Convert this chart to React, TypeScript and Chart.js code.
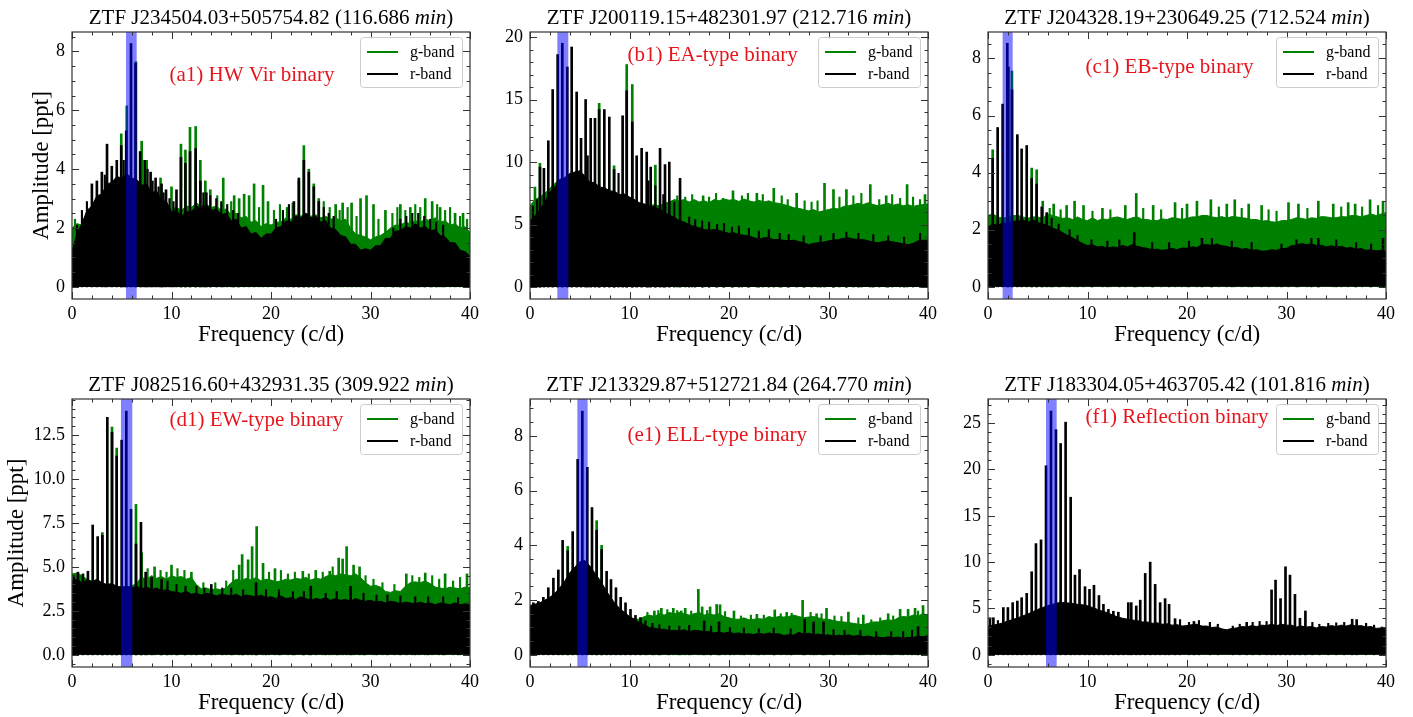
import React, { useEffect, useRef } from 'react';
import { Chart, registerables } from 'chart.js';

Chart.register(...registerables);

const FONT = "'Liberation Serif', 'Times New Roman', serif";
const GREEN = '#008000';
const BLACK = '#000000';
const AXIS = '#333333';

// frequency grid of the dense periodogram envelope (c/d)
const envFreq: number[] = Array.from({ length: 81 }, (_, k) => k * 0.5);

// ---------- (a1) ----------
const a1G = [
  2.0, 2.15, 2.1, 2.3, 2.5, 2.7, 2.8, 3.0, 3.1, 3.2,
  3.3, 3.3, 3.3, 3.2, 3.1, 3.0, 2.9, 2.8, 2.75, 2.7,
  2.65, 2.7, 2.6, 2.75, 2.7, 2.85, 2.75, 2.8, 2.7, 2.75,
  2.6, 2.65, 2.45, 2.5, 2.35, 2.4, 2.2, 2.25, 2.05, 2.15,
  2.1, 2.2, 2.2, 2.35, 2.3, 2.45, 2.4, 2.5, 2.4, 2.45,
  2.35, 2.4, 2.3, 2.35, 2.25, 2.3, 2.0, 1.8, 1.75, 1.7,
  1.6, 1.7, 1.75, 1.85, 2.0, 2.1, 2.1, 2.2, 2.15, 2.25,
  2.2, 2.3, 2.25, 2.35, 2.2, 2.25, 2.1, 2.15, 2.0, 2.05,
  1.85,
];
const a1R = [
  1.2, 1.8, 2.15, 2.6, 2.75, 3.1, 3.15, 3.5, 3.55, 3.75,
  3.7, 3.85, 3.7, 3.65, 3.45, 3.5, 3.2, 3.25, 2.95, 2.9,
  2.55, 2.6, 2.4, 2.55, 2.55, 2.75, 2.65, 2.8, 2.6, 2.65,
  2.45, 2.5, 2.25, 2.3, 2.0, 2.05, 1.8, 1.85, 1.65, 1.8,
  1.8, 2.0, 2.05, 2.25, 2.2, 2.4, 2.35, 2.5, 2.35, 2.4,
  2.2, 2.25, 2.0, 1.95, 1.75, 1.7, 1.45, 1.45, 1.25, 1.3,
  1.25, 1.4, 1.4, 1.65, 1.65, 1.9, 1.9, 2.05, 2.0, 2.15,
  2.0, 2.05, 1.9, 1.95, 1.75, 1.7, 1.5, 1.5, 1.25, 1.2,
  1.05,
];
const a1GSpk = [[4.95, 5.2], [5.5, 6.15], [6.43, 7.65], [7.0, 4.95], [7.5, 4.3], [8.9, 3.7], [10.0, 3.4], [10.95, 4.85], [11.4, 4.65], [11.86, 5.42], [12.43, 5.45], [12.9, 4.3], [13.4, 3.6], [13.9, 3.3], [15.2, 3.7], [16.3, 3.1], [16.8, 3.0], [17.3, 3.15], [17.8, 3.1], [18.3, 3.5], [19.2, 3.45], [19.7, 2.9], [22.2, 2.85], [22.8, 3.6], [23.3, 4.8], [23.8, 4.0], [24.3, 3.5], [24.8, 3.0], [26.5, 2.8], [27.2, 2.85], [28.1, 2.85], [29.0, 3.0], [29.6, 3.1], [30.3, 2.8], [31.5, 2.6], [33.0, 2.8], [34.0, 2.7], [35.5, 3.0], [36.2, 2.9], [37.0, 2.7], [38.5, 2.5], [39.3, 2.5]];
const a1RSpk = [[2.0, 3.5], [2.5, 3.6], [3.0, 3.9], [3.52, 4.85], [4.0, 4.1], [4.5, 4.3], [4.95, 4.8], [5.45, 5.3], [5.93, 8.27], [6.38, 7.6], [6.85, 4.6], [7.3, 4.3], [7.9, 3.9], [8.4, 3.7], [9.0, 3.5], [9.45, 3.3], [10.5, 3.3], [10.95, 4.4], [11.4, 4.2], [11.86, 4.6], [12.43, 4.7], [12.9, 3.6], [13.5, 3.2], [22.3, 2.9], [22.8, 3.7], [23.3, 4.3], [23.8, 3.9], [24.3, 3.4], [24.8, 2.9]];
const a1GHair = [[0.3, 2.3], [14.6, 3.1], [16.0, 2.9], [18.8, 2.7], [20.3, 2.6], [20.9, 2.8], [21.6, 2.7], [25.3, 2.9], [25.9, 2.7], [26.9, 2.6], [27.7, 2.7], [28.6, 2.4], [30.8, 2.3], [32.2, 2.5], [32.7, 2.7], [33.5, 2.6], [34.5, 2.8], [35.0, 2.7], [36.7, 2.8], [37.5, 2.6], [38.0, 2.7], [39.0, 2.4], [39.7, 2.3]];
const a1RHair = [[0.5, 2.1], [1.0, 2.6], [1.5, 2.9], [3.3, 3.8], [5.2, 4.3], [7.6, 4.0], [8.1, 3.6], [8.7, 3.4], [9.2, 3.2], [9.8, 3.0], [10.2, 2.9], [13.2, 3.2], [13.9, 3.1], [14.5, 3.0], [15.0, 2.9], [15.6, 2.8], [16.2, 2.6], [16.7, 2.5], [20.5, 2.3], [21.2, 2.6], [21.8, 2.8], [25.3, 2.7], [25.8, 2.5], [26.3, 2.4], [32.3, 2.0], [33.0, 2.3], [33.6, 2.4], [34.2, 2.5], [34.8, 2.5], [35.4, 2.4], [36.0, 2.3], [36.6, 2.2], [37.3, 2.1]];

// ---------- (b1) ----------
const b1G = [
  6.5, 7.0, 7.2, 7.5, 7.9, 8.3, 8.6, 8.8, 9.0, 9.1,
  9.1, 8.8, 8.3, 8.2, 7.9, 7.8, 7.6, 7.5, 7.3, 7.3,
  7.1, 6.95, 6.7, 6.6, 6.5, 6.6, 6.5, 6.7, 6.8, 7.0,
  6.9, 7.0, 6.8, 7.0, 6.8, 6.9, 6.75, 7.0, 6.9, 7.05,
  6.95, 7.0, 6.85, 7.05, 6.9, 6.8, 6.95, 6.8, 6.9, 6.75,
  6.7, 6.6, 6.5, 6.35, 6.3, 6.2, 6.1, 6.2, 6.0, 6.1,
  6.2, 6.3, 6.25, 6.45, 6.5, 6.6, 6.7, 6.6, 6.75, 6.6,
  6.5, 6.6, 6.7, 6.55, 6.65, 6.5, 6.6, 6.45, 6.55, 6.6,
  6.65,
];
const b1R = [
  5.3, 5.7, 6.2, 6.8, 7.6, 8.0, 8.6, 8.7, 9.1, 9.2,
  9.3, 8.9, 8.4, 8.35, 8.0, 7.95, 7.7, 7.65, 7.4, 7.45,
  7.2, 7.0, 6.75, 6.65, 6.4, 6.45, 6.2, 6.0, 5.75, 5.6,
  5.3, 5.2, 5.0, 4.85, 4.75, 4.6, 4.55, 4.6, 4.55, 4.4,
  4.3, 4.35, 4.2, 4.15, 4.1, 3.95, 3.85, 3.95, 3.95, 3.8,
  3.8, 3.75, 3.7, 3.75, 3.65, 3.55, 3.4, 3.5, 3.55, 3.6,
  3.7, 3.75, 3.8, 3.9, 3.95, 3.85, 3.8, 3.8, 3.7, 3.6,
  3.55, 3.65, 3.7, 3.6, 3.55, 3.45, 3.4, 3.5, 3.7, 3.75,
  3.75,
];
const b1GSpk = [[0.5, 8.0], [1.0, 9.9], [6.95, 14.7], [8.45, 9.7], [9.72, 17.8], [10.28, 16.2], [12.6, 9.75], [17.4, 7.3], [20.4, 7.7], [22.8, 7.5], [24.5, 7.9], [26.8, 7.5], [29.6, 8.3], [30.5, 7.8], [31.8, 7.8], [34.2, 8.2], [35.8, 7.3], [37.9, 8.2], [39.7, 7.4]];
const b1RSpk = [[1.0, 9.6], [1.4, 9.5], [1.84, 11.7], [2.28, 15.8], [2.78, 18.6], [3.25, 19.5], [3.75, 17.6], [4.19, 19.2], [4.69, 15.6], [5.13, 11.9], [5.59, 15.0], [6.1, 13.5], [6.53, 13.5], [6.95, 14.2], [7.47, 14.2], [7.97, 13.6], [8.45, 9.4], [9.31, 13.7], [9.72, 15.7], [10.28, 13.2], [10.72, 10.5], [11.22, 11.1], [11.73, 10.8], [12.13, 9.6], [13.07, 11.1], [13.57, 9.8], [14.0, 10.0], [15.08, 8.7]];
const b1GHair = [[14.8, 7.3], [15.6, 7.2], [16.3, 7.4], [18.0, 7.2], [18.7, 7.5], [19.4, 7.1], [21.3, 7.3], [21.9, 7.5], [23.4, 7.4], [25.3, 7.3], [25.9, 7.0], [27.6, 6.9], [28.3, 6.8], [28.9, 6.9], [31.1, 7.2], [32.5, 7.3], [33.3, 7.5], [35.1, 7.0], [36.4, 7.4], [37.2, 7.1], [38.5, 7.2], [39.2, 7.0]];
const b1RHair = [[0.3, 6.5], [0.7, 7.0], [5.8, 10.5], [8.9, 9.1], [11.9, 8.5], [12.6, 8.1], [13.4, 7.4], [14.5, 6.8], [16.0, 5.6], [16.6, 5.4], [17.3, 5.3], [18.0, 5.2], [18.8, 5.0], [19.5, 5.1], [20.3, 4.8], [21.0, 4.9], [22.0, 4.7], [23.0, 4.5], [24.0, 4.6], [25.1, 4.3], [26.0, 4.2], [27.5, 4.1], [29.2, 4.1], [30.5, 4.3], [31.8, 4.4], [33.0, 4.3], [34.5, 4.2], [36.0, 4.1], [37.6, 4.0], [39.2, 4.3]];

// ---------- (c1) ----------
const c1G = [
  2.5, 2.55, 2.45, 2.4, 2.45, 2.5, 2.5, 2.45, 2.4, 2.45,
  2.45, 2.4, 2.55, 2.5, 2.45, 2.4, 2.42, 2.36, 2.45, 2.36,
  2.32, 2.42, 2.32, 2.38, 2.36, 2.42, 2.45, 2.4, 2.36, 2.42,
  2.45, 2.36, 2.36, 2.32, 2.32, 2.38, 2.36, 2.42, 2.4, 2.36,
  2.4, 2.45, 2.45, 2.5, 2.5, 2.45, 2.42, 2.46, 2.4, 2.46,
  2.45, 2.42, 2.4, 2.36, 2.36, 2.3, 2.32, 2.28, 2.26, 2.32,
  2.32, 2.36, 2.42, 2.4, 2.36, 2.42, 2.4, 2.46, 2.45, 2.42,
  2.42, 2.46, 2.45, 2.5, 2.5, 2.45, 2.5, 2.55, 2.5, 2.55,
  2.6,
];
const c1R = [
  2.1, 2.2, 2.15, 2.25, 2.2, 2.3, 2.3, 2.35, 2.25, 2.35,
  2.25, 2.2, 2.15, 2.05, 2.0, 1.9, 1.8, 1.72, 1.62, 1.52,
  1.45, 1.47, 1.4, 1.42, 1.35, 1.4, 1.38, 1.45, 1.4, 1.48,
  1.42, 1.38, 1.35, 1.3, 1.32, 1.28, 1.3, 1.35, 1.3, 1.36,
  1.35, 1.4, 1.38, 1.47, 1.48, 1.45, 1.5, 1.44, 1.42, 1.36,
  1.38, 1.32, 1.34, 1.28, 1.3, 1.25, 1.26, 1.3, 1.28, 1.34,
  1.35, 1.44, 1.46, 1.52, 1.48, 1.5, 1.45, 1.46, 1.4, 1.44,
  1.4, 1.42, 1.36, 1.38, 1.32, 1.34, 1.28, 1.3, 1.26, 1.28,
  1.25,
];
const c1GSpk = [[0.47, 4.8], [2.41, 7.56], [4.39, 4.16], [4.89, 4.1], [5.5, 3.0], [6.6, 2.9], [7.9, 2.85], [8.7, 3.0], [9.6, 2.85], [11.5, 2.75], [13.8, 2.85], [14.9, 3.27], [16.6, 2.85], [18.8, 2.95], [20.0, 2.9], [21.0, 3.0], [22.4, 3.05], [24.0, 2.9], [24.8, 3.05], [26.2, 2.9], [27.5, 2.85], [30.2, 2.95], [31.2, 2.9], [33.2, 3.0], [34.7, 2.9], [36.2, 2.95], [36.9, 2.9], [38.4, 3.05], [39.7, 3.0]];
const c1RSpk = [[0.47, 4.5], [0.97, 5.58], [1.47, 6.4], [1.94, 8.53], [2.05, 7.7], [2.41, 6.9], [2.95, 5.33], [3.38, 4.83], [3.89, 4.95], [4.39, 3.8], [4.89, 3.6], [5.4, 2.8], [5.9, 2.6], [14.7, 1.9], [21.5, 1.7], [33.2, 1.7], [39.7, 1.7]];
const c1GHair = [[6.2, 2.75], [7.3, 2.7], [10.5, 2.65], [12.3, 2.7], [15.6, 2.75], [17.4, 2.7], [19.5, 2.75], [23.2, 2.8], [25.5, 2.75], [28.2, 2.7], [29.0, 2.65], [32.1, 2.75], [35.5, 2.8], [37.6, 2.8], [39.2, 2.85]];
const c1RHair = [[6.4, 2.4], [7.1, 2.2], [8.2, 2.0], [9.0, 1.8], [10.4, 1.65], [12.0, 1.6], [13.2, 1.65], [16.5, 1.55], [18.2, 1.55], [20.2, 1.6], [22.5, 1.7], [24.5, 1.6], [26.5, 1.55], [29.5, 1.5], [31.0, 1.65], [32.5, 1.7], [35.0, 1.65], [37.0, 1.55], [38.5, 1.5]];

// ---------- (d1) ----------
const d1G = [
  4.6, 4.65, 4.5, 4.3, 4.2, 4.1, 4.0, 4.0, 3.9, 3.85,
  3.8, 3.85, 3.9, 4.1, 4.4, 4.3, 4.5, 4.35, 4.45, 4.3,
  4.5, 4.4, 4.45, 4.3, 4.4, 4.0, 3.75, 3.8, 3.7, 3.75,
  3.7, 3.8, 4.1, 4.3, 4.2, 4.35, 4.25, 4.4, 4.2, 4.3,
  4.25, 4.15, 4.2, 4.3, 4.25, 4.35, 4.3, 4.4, 4.25, 4.35,
  4.3, 4.45, 4.55, 4.5, 4.6, 4.55, 4.5, 4.6, 4.4, 4.1,
  3.9, 3.95, 3.85, 3.6, 3.55, 3.65, 3.6, 3.9, 4.1, 4.15,
  4.1, 4.2, 4.05, 3.85, 3.8, 3.75, 3.85, 3.8, 3.75, 3.85,
  3.8,
];
const d1R = [
  4.2, 4.3, 4.1, 4.25, 4.15, 4.3, 4.1, 4.0, 4.05, 3.9,
  3.85, 3.9, 3.8, 3.9, 3.75, 3.85, 3.7, 3.8, 3.65, 3.7,
  3.6, 3.55, 3.5, 3.6, 3.45, 3.5, 3.4, 3.5, 3.45, 3.35,
  3.45, 3.4, 3.35, 3.45, 3.3, 3.4, 3.35, 3.3, 3.4, 3.25,
  3.3, 3.2, 3.35, 3.2, 3.25, 3.15, 3.3, 3.2, 3.1, 3.2,
  3.15, 3.25, 3.1, 3.2, 3.1, 3.15, 3.05, 3.2, 3.1, 3.05,
  3.1, 3.0, 3.05, 2.95, 3.05, 3.0, 2.9, 3.0, 2.95, 2.9,
  3.0, 2.9, 2.95, 2.85, 2.95, 2.9, 2.85, 2.95, 2.85, 2.9,
  2.85,
];
const d1GSpk = [[3.05, 6.95], [4.02, 12.95], [4.49, 11.75], [6.43, 8.55], [7.0, 5.8], [8.3, 5.0], [10.0, 5.1], [12.0, 4.7], [16.8, 5.1], [17.1, 5.7], [17.7, 5.4], [18.1, 6.15], [18.56, 7.29], [19.2, 5.2], [20.4, 4.9], [23.2, 4.75], [24.5, 4.8], [25.9, 4.75], [26.8, 5.5], [27.2, 5.45], [27.6, 6.15], [28.3, 5.1], [28.9, 5.0], [33.6, 4.6], [35.5, 4.65], [37.5, 4.6], [39.7, 4.6]];
const d1RSpk = [[0.6, 4.7], [1.1, 4.6], [1.6, 4.75], [2.08, 7.38], [2.58, 6.72], [3.05, 6.8], [3.55, 13.5], [4.02, 12.65], [4.49, 11.3], [4.99, 12.2], [5.46, 13.85], [5.93, 8.27], [6.43, 6.3], [6.93, 7.53], [7.4, 4.7], [8.0, 4.4], [9.0, 4.3], [14.0, 4.0], [18.5, 4.1], [24.0, 3.9], [28.0, 3.9]];
const d1GHair = [[7.6, 4.9], [8.9, 4.8], [9.5, 4.7], [10.6, 4.9], [11.3, 4.8], [13.2, 4.1], [14.4, 4.1], [15.5, 4.2], [16.2, 4.8], [19.8, 4.7], [21.0, 4.8], [21.7, 4.6], [22.4, 4.7], [23.8, 4.6], [25.2, 4.7], [26.2, 5.0], [29.5, 4.5], [30.3, 4.3], [31.2, 4.1], [32.4, 4.0], [34.2, 4.5], [34.9, 4.4], [36.2, 4.5], [36.9, 4.3], [38.3, 4.2], [39.0, 4.4]];
const d1RHair = [[0.2, 4.5], [9.6, 4.2], [10.5, 4.0], [11.4, 3.9], [12.5, 3.9], [13.3, 3.8], [15.1, 3.8], [16.0, 3.8], [17.2, 3.7], [19.5, 3.7], [20.8, 3.7], [22.2, 3.6], [23.3, 3.6], [25.5, 3.5], [26.6, 3.6], [29.3, 3.5], [30.6, 3.4], [31.7, 3.4], [33.0, 3.35], [34.5, 3.3], [35.8, 3.3], [37.3, 3.3], [38.8, 3.25]];

// ---------- (e1) ----------
const e1G = [
  1.7, 1.75, 1.8, 1.85, 1.95, 2.05, 2.2, 2.4, 2.6, 2.8,
  2.9, 3.0, 2.9, 2.7, 2.5, 2.2, 1.95, 1.75, 1.6, 1.45,
  1.35, 1.3, 1.3, 1.4, 1.45, 1.4, 1.5, 1.45, 1.55, 1.5,
  1.55, 1.5, 1.45, 1.5, 1.55, 1.45, 1.5, 1.45, 1.5, 1.4,
  1.35, 1.3, 1.3, 1.35, 1.28, 1.3, 1.32, 1.3, 1.4, 1.35,
  1.4, 1.38, 1.4, 1.45, 1.4, 1.35, 1.38, 1.4, 1.35, 1.3,
  1.3, 1.25, 1.22, 1.2, 1.18, 1.15, 1.12, 1.1, 1.15, 1.2,
  1.2, 1.25, 1.28, 1.25, 1.35, 1.4, 1.38, 1.45, 1.42, 1.5,
  1.45,
];
const e1R = [
  1.8, 1.85, 1.9, 2.0, 2.1, 2.25, 2.45, 2.7, 3.0, 3.2,
  3.4, 3.45, 3.25, 3.0, 2.75, 2.45, 2.15, 1.9, 1.7, 1.55,
  1.4, 1.3, 1.17, 1.1, 0.99, 0.98, 0.92, 0.94, 0.88, 0.9,
  0.87, 0.92, 0.84, 0.9, 0.88, 0.84, 0.86, 0.8, 0.83, 0.79,
  0.83, 0.78, 0.8, 0.75, 0.77, 0.74, 0.79, 0.75, 0.8, 0.76,
  0.77, 0.71, 0.73, 0.72, 0.82, 0.76, 0.79, 0.74, 0.76, 0.71,
  0.73, 0.68, 0.72, 0.69, 0.73, 0.68, 0.71, 0.66, 0.69, 0.64,
  0.65, 0.62, 0.66, 0.62, 0.65, 0.6, 0.64, 0.63, 0.68, 0.66,
  0.7,
];
const e1GSpk = [[3.79, 3.96], [6.7, 4.9], [7.2, 4.0], [12.5, 1.6], [13.2, 1.7], [14.4, 1.7], [15.2, 1.6], [15.6, 1.7], [16.92, 2.39], [17.3, 1.75], [18.1, 1.75], [18.76, 1.84], [19.1, 1.83], [20.5, 1.6], [22.8, 1.48], [24.6, 1.64], [25.8, 1.55], [27.4, 1.99], [28.8, 1.5], [29.8, 1.7], [32.0, 1.56], [33.5, 1.45], [36.0, 1.5], [37.2, 1.66], [38.0, 1.66], [38.7, 1.7], [39.5, 1.8]];
const e1RSpk = [[0.34, 1.9], [0.84, 1.95], [1.34, 2.1], [1.84, 2.45], [2.35, 2.8], [2.85, 3.1], [3.28, 4.18], [3.79, 3.8], [4.29, 4.5], [4.79, 7.14], [5.26, 8.9], [5.76, 6.85], [6.23, 5.38], [6.7, 4.55], [7.2, 3.85], [7.7, 3.05], [8.14, 2.75], [8.64, 2.45], [9.11, 2.1], [9.6, 1.9], [10.1, 1.66], [10.6, 1.44], [11.1, 1.36], [17.5, 1.24], [19.0, 1.2], [27.6, 1.3], [28.5, 1.2], [29.5, 1.2], [39.0, 1.03]];
const e1GHair = [[11.8, 1.55], [12.9, 1.62], [13.8, 1.65], [14.8, 1.62], [16.2, 1.6], [17.8, 1.62], [19.6, 1.58], [21.2, 1.42], [22.2, 1.45], [23.5, 1.45], [25.2, 1.5], [26.3, 1.52], [28.2, 1.55], [29.3, 1.5], [30.6, 1.42], [31.3, 1.4], [33.0, 1.35], [34.3, 1.28], [35.2, 1.35], [36.5, 1.42], [39.0, 1.6]];
const e1RHair = [[11.6, 1.25], [12.3, 1.15], [13.0, 1.1], [14.0, 1.05], [15.0, 1.05], [16.0, 1.08], [18.2, 1.05], [20.1, 1.0], [21.5, 0.98], [23.0, 0.95], [24.5, 0.98], [26.2, 0.95], [30.5, 0.92], [31.6, 0.9], [33.2, 0.9], [34.8, 0.85], [36.3, 0.85], [37.5, 0.85], [38.4, 0.9]];

// ---------- (f1) ----------
const f1G = [
  2.4, 2.5, 2.6, 2.7, 2.85, 3.0, 3.1, 3.25, 3.4, 3.6,
  3.8, 3.95, 4.1, 4.2, 4.3, 4.35, 4.3, 4.25, 4.2, 4.15,
  4.05, 3.9, 3.75, 3.6, 3.5, 3.3, 3.15, 3.05, 2.95, 2.9,
  2.8, 2.75, 2.7, 2.65, 2.6, 2.55, 2.55, 2.5, 2.45, 2.4,
  2.4, 2.45, 2.5, 2.4, 2.35, 2.3, 2.25, 2.15, 2.1, 2.15,
  2.25, 2.3, 2.35, 2.4, 2.4, 2.45, 2.5, 2.5, 2.45, 2.5,
  2.45, 2.4, 2.35, 2.35, 2.35, 2.3, 2.25, 2.3, 2.35, 2.4,
  2.35, 2.4, 2.45, 2.45, 2.4, 2.4, 2.35, 2.3, 2.25, 2.2,
  2.15,
];
const f1R = [
  3.1, 3.2, 3.3, 3.45, 3.65, 3.8, 4.0, 4.2, 4.4, 4.65,
  4.9, 5.1, 5.3, 5.45, 5.6, 5.65, 5.6, 5.55, 5.45, 5.4,
  5.3, 5.1, 4.9, 4.7, 4.55, 4.3, 4.1, 3.95, 3.85, 3.75,
  3.7, 3.55, 3.55, 3.4, 3.45, 3.3, 3.35, 3.2, 3.25, 3.1,
  3.15, 3.25, 3.3, 3.1, 3.1, 2.95, 3.0, 2.8, 2.7, 2.85,
  2.9, 3.05, 3.0, 3.15, 3.05, 3.2, 3.15, 3.3, 3.15, 3.3,
  3.2, 3.2, 3.0, 3.1, 3.0, 3.05, 2.9, 3.05, 3.0, 3.15,
  3.05, 3.2, 3.1, 3.25, 3.1, 3.15, 3.0, 3.05, 2.85, 2.9,
  2.8,
];
const f1GSpk: number[][] = [];
const f1RSpk = [[0.2, 4.0], [0.54, 4.0], [1.54, 5.1], [2.0, 5.1], [2.48, 5.63], [2.95, 5.8], [3.38, 6.16], [3.89, 6.63], [4.39, 8.96], [4.82, 12.0], [5.33, 12.4], [5.83, 20.4], [6.33, 26.3], [6.83, 24.3], [7.3, 22.8], [7.8, 25.1], [8.31, 17.0], [8.74, 8.6], [9.2, 9.2], [9.75, 7.35], [10.2, 7.06], [10.65, 7.5], [11.15, 6.4], [11.6, 5.45], [12.1, 4.9], [12.6, 4.7], [13.1, 4.6], [13.6, 3.84], [14.1, 5.63], [14.4, 5.63], [14.9, 5.27], [15.3, 5.9], [15.8, 8.78], [16.3, 10.0], [16.8, 7.6], [17.3, 5.63], [17.8, 6.06], [18.2, 5.45], [18.8, 3.9], [20.7, 3.6], [26.0, 3.5], [28.5, 7.0], [28.9, 8.06], [29.4, 6.06], [29.9, 9.5], [30.35, 8.6], [30.85, 6.52], [31.35, 3.94], [31.9, 4.73], [36.6, 3.84], [37.05, 3.8]];
const f1GHair: number[][] = [];
const f1RHair = [[1.0, 3.7], [19.3, 3.8], [20.2, 3.5], [21.2, 3.7], [22.3, 3.5], [23.1, 3.3], [24.6, 3.1], [25.3, 3.3], [26.6, 3.5], [27.3, 3.6], [28.0, 3.6], [32.6, 3.5], [33.3, 3.3], [34.2, 3.4], [35.0, 3.45], [35.8, 3.5], [38.0, 3.4], [38.8, 3.2], [39.6, 3.0]];

// ---------- panel texts / axes ----------
const titles = ['ZTF J234504.03+505754.82', 'ZTF J200119.15+482301.97', 'ZTF J204328.19+230649.25', 'ZTF J082516.60+432931.35', 'ZTF J213329.87+512721.84', 'ZTF J183304.05+463705.42'];
const periods = ['116.686', '212.716', '712.524', '309.922', '264.770', '101.816'];
const tags = ['(a1) HW Vir binary', '(b1) EA-type binary', '(c1) EB-type binary', '(d1) EW-type binary', '(e1) ELL-type binary', '(f1) Reflection binary'];
const legendLabels = ['g-band', 'r-band'];
const bandLo = [5.43, 2.75, 1.47, 4.92, 4.76, 5.83];
const bandHi = [6.5, 3.85, 2.48, 6.06, 5.79, 6.9];
const yMin = [-0.41, -0.95, -0.425, -0.69, -0.445, -1.315];
const yMax = [8.66, 20.4, 8.925, 14.54, 9.345, 27.6];
const yStep = [2, 5, 2, 2.5, 2, 5];
const yMinorStep = [0.5, 1, 0.5, 0.5, 0.5, 1];
const yDecimals = [0, 0, 0, 1, 0, 0];
const xMin = 0, xMax = 40, xStep = 10, xMinorStep = 2;

const gEnv = [a1G, b1G, c1G, d1G, e1G, f1G];
const rEnv = [a1R, b1R, c1R, d1R, e1R, f1R];
const gSpk = [a1GSpk, b1GSpk, c1GSpk, d1GSpk, e1GSpk, f1GSpk];
const rSpk = [a1RSpk, b1RSpk, c1RSpk, d1RSpk, e1RSpk, f1RSpk];
const gHair = [a1GHair, b1GHair, c1GHair, d1GHair, e1GHair, f1GHair];
const rHair = [a1RHair, b1RHair, c1RHair, d1RHair, e1RHair, f1RHair];

// ---------- layout ----------
const COL_L = [72, 530, 988];
const ROW_T = [32, 399];
const ROW_H = [267, 268];
const PW = 398, YW = 72, PADR = 16, PADT = 32, XH = 48;
const TAG_DY = [43, 23, 35, 21, 36, 18];
const YLAB_DX = [-30, 0, 0, -55, 0, 0];

function makeDecor(i: number) {
  return {
    id: 'decor' + i,
    afterDatasetsDraw(chart: any) {
      const { ctx, chartArea: ca, scales } = chart;
      const xs = scales.x;
      ctx.save();
      ctx.beginPath();
      ctx.rect(ca.left, ca.top, ca.right - ca.left, ca.bottom - ca.top);
      ctx.clip();
      const x0 = xs.getPixelForValue(bandLo[i]);
      const x1 = xs.getPixelForValue(bandHi[i]);
      ctx.fillStyle = 'rgba(0,0,255,0.5)';
      ctx.fillRect(x0, ca.top, x1 - x0, ca.bottom - ca.top);
      ctx.restore();
    },
    afterDraw(chart: any) {
      const { ctx, chartArea: ca, scales } = chart;
      const xs = scales.x, ys = scales.y;
      ctx.save();
      ctx.strokeStyle = AXIS;
      ctx.lineWidth = 1;
      ctx.beginPath();
      const xr = Math.round(xStep / xMinorStep);
      for (let k = Math.ceil(xMin / xMinorStep); k * xMinorStep <= xMax + 1e-9; k++) {
        const px = Math.round(xs.getPixelForValue(k * xMinorStep)) + 0.5;
        const len = k % xr === 0 ? 7 : 3.5;
        ctx.moveTo(px, ca.bottom); ctx.lineTo(px, ca.bottom - len);
        ctx.moveTo(px, ca.top); ctx.lineTo(px, ca.top + len);
      }
      const ms = yMinorStep[i];
      const yr = Math.round(yStep[i] / ms);
      for (let k = Math.ceil(yMin[i] / ms - 1e-9); k * ms <= yMax[i] + 1e-9; k++) {
        const py = Math.round(ys.getPixelForValue(k * ms)) + 0.5;
        const len = ((k % yr) + yr) % yr === 0 ? 7 : 3.5;
        ctx.moveTo(ca.left, py); ctx.lineTo(ca.left + len, py);
        ctx.moveTo(ca.right, py); ctx.lineTo(ca.right - len, py);
      }
      ctx.stroke();
      ctx.lineWidth = 1.2;
      ctx.strokeRect(ca.left, ca.top, ca.right - ca.left, ca.bottom - ca.top);

      // legend
      const lw = 102, lh = 50;
      const lx = ca.right - 8 - lw, ly = ca.top + 5;
      ctx.beginPath();
      ctx.roundRect(lx + 0.5, ly + 0.5, lw, lh, 3);
      ctx.fillStyle = 'rgba(255,255,255,0.8)';
      ctx.fill();
      ctx.strokeStyle = '#cccccc';
      ctx.lineWidth = 1;
      ctx.stroke();
      const rows = [ly + 15, ly + 37];
      const cols = [GREEN, BLACK];
      ctx.font = `16px ${FONT}`;
      ctx.textBaseline = 'middle';
      ctx.textAlign = 'left';
      for (let r = 0; r < 2; r++) {
        ctx.strokeStyle = cols[r];
        ctx.lineWidth = 2;
        ctx.beginPath();
        ctx.moveTo(lx + 7, rows[r]);
        ctx.lineTo(lx + 38, rows[r]);
        ctx.stroke();
        ctx.fillStyle = '#000';
        ctx.fillText(legendLabels[r], lx + 50, rows[r] + 1);
      }

      // annotation
      ctx.font = `21px ${FONT}`;
      ctx.fillStyle = '#e8141c';
      ctx.fillText(tags[i], ca.left + 0.245 * (ca.right - ca.left), ca.top + TAG_DY[i]);

      // title
      ctx.fillStyle = '#000';
      const s1 = `${titles[i]} (${periods[i]} `, s2 = 'min', s3 = ')';
      const fN = `21px ${FONT}`, fI = `italic 21px ${FONT}`;
      ctx.font = fN;
      const w1 = ctx.measureText(s1).width, w3 = ctx.measureText(s3).width;
      ctx.font = fI;
      const w2 = ctx.measureText(s2).width;
      let tx = (ca.left + ca.right) / 2 - (w1 + w2 + w3) / 2;
      const ty = ca.top - 14;
      ctx.font = fN; ctx.fillText(s1, tx, ty); tx += w1;
      ctx.font = fI; ctx.fillText(s2, tx, ty); tx += w2;
      ctx.font = fN; ctx.fillText(s3, tx, ty);

      // x label
      ctx.font = `23px ${FONT}`;
      ctx.textAlign = 'center';
      ctx.fillText('Frequency (c/d)', (ca.left + ca.right) / 2, ca.bottom + 36);

      // y label (left column)
      if (i % 3 === 0) {
        ctx.translate(ca.left + YLAB_DX[i], (ca.top + ca.bottom) / 2);
        ctx.rotate(-Math.PI / 2);
        ctx.fillText('Amplitude [ppt]', 0, 0);
      }
      ctx.restore();
    },
  };
}

function barSet(label: string, pts: number[][], color: string, order: number, thick: number) {
  return {
    type: 'bar', label, order,
    data: pts.map(([x, y]) => ({ x, y })),
    backgroundColor: color, borderWidth: 0, barThickness: thick, grouped: false,
  } as any;
}

function envSet(label: string, vals: number[], color: string, order: number) {
  return {
    type: 'line', label, order,
    data: envFreq.map((x, k) => ({ x, y: vals[k] })),
    borderColor: color, backgroundColor: color, borderWidth: 1,
    pointRadius: 0, tension: 0, fill: 'origin',
  } as any;
}

function Panel({ i }: { i: number }) {
  const ref = useRef<HTMLCanvasElement>(null);
  const col = i % 3, row = Math.floor(i / 3);
  const W = YW + PW + PADR;
  const H = PADT + ROW_H[row] + XH;
  const left = COL_L[col] - YW;
  const top = ROW_T[row] - PADT;

  useEffect(() => {
    if (!ref.current) return;
    const tickFont = { family: FONT, size: 18 };
    const chart = new Chart(ref.current, {
      type: 'line',
      data: {
        datasets: [
          barSet('r-spk', rSpk[i], BLACK, 0, 2),
          barSet('r-hair', rHair[i], BLACK, 0, 1.5),
          envSet('r-band', rEnv[i], BLACK, 1),
          barSet('g-spk', gSpk[i], GREEN, 2, 2),
          barSet('g-hair', gHair[i], GREEN, 2, 1.5),
          envSet('g-band', gEnv[i], GREEN, 3),
        ],
      },
      options: {
        animation: false,
        responsive: false,
        maintainAspectRatio: false,
        events: [],
        layout: { padding: { top: PADT, right: PADR, left: 0, bottom: 0 } },
        plugins: { legend: { display: false }, tooltip: { enabled: false }, title: { display: false } },
        scales: {
          x: {
            type: 'linear', min: xMin, max: xMax, offset: false,
            grid: { display: false, drawTicks: false },
            border: { display: false },
            ticks: { stepSize: xStep, padding: 4, font: tickFont, color: '#000', maxRotation: 0, autoSkip: false, includeBounds: false },
            afterFit: (s: any) => { s.height = XH; },
          },
          y: {
            type: 'linear', min: yMin[i], max: yMax[i],
            grid: { display: false, drawTicks: false },
            border: { display: false },
            ticks: {
              stepSize: yStep[i], padding: 7, font: tickFont, color: '#000', includeBounds: false,
              callback: (v: any) => Number(v).toFixed(yDecimals[i]),
            },
            afterFit: (s: any) => { s.width = YW; },
          },
        },
      } as any,
      plugins: [makeDecor(i)],
    });
    return () => chart.destroy();
  }, [i]);

  return (
    <canvas
      ref={ref}
      width={W}
      height={H}
      style={{ position: 'absolute', left, top, width: W, height: H }}
    />
  );
}

export default function App() {
  return (
    <div style={{ position: 'fixed', left: 0, top: 0, width: 1413, height: 717, background: '#fff', overflow: 'hidden' }}>
      {[0, 1, 2, 3, 4, 5].map((i) => (
        <Panel key={i} i={i} />
      ))}
    </div>
  );
}
